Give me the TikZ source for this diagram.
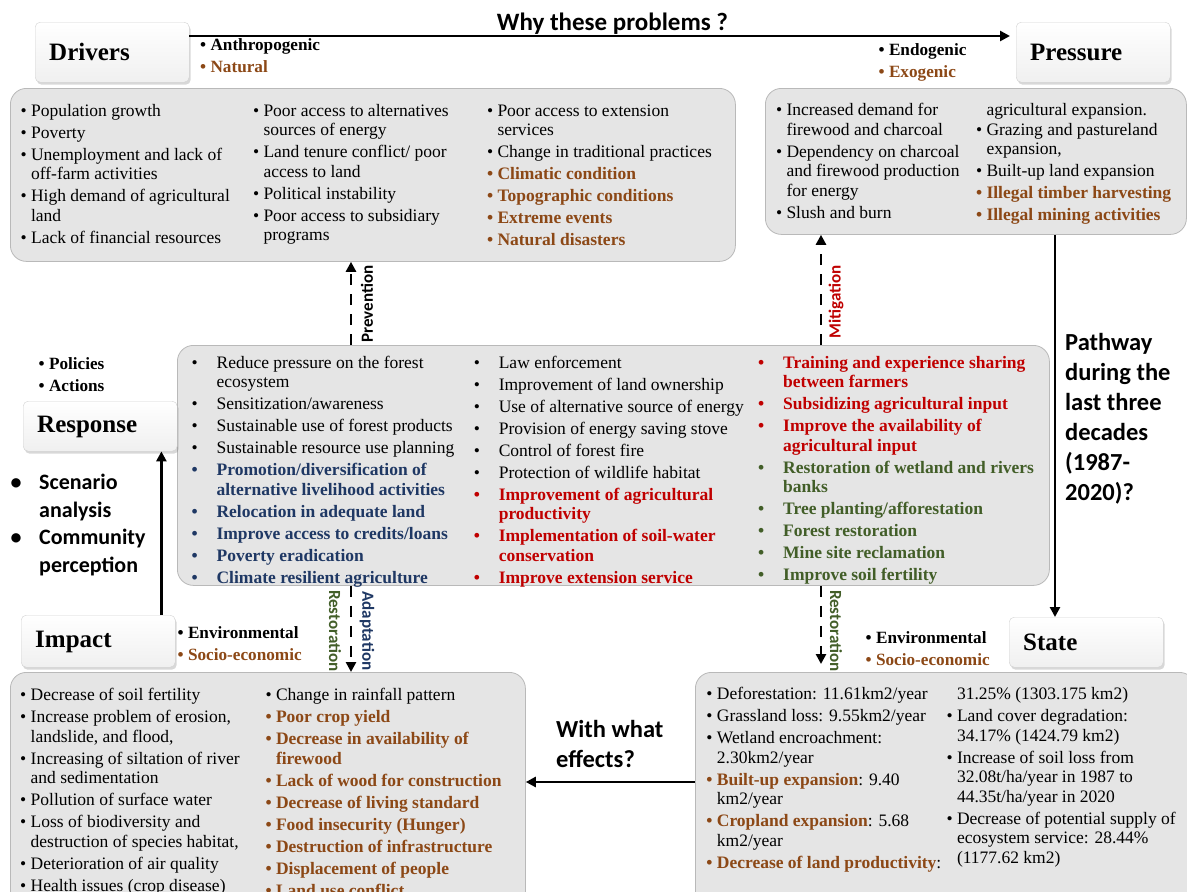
\documentclass[tikz,border=0pt]{standalone}
\usepackage{fontspec}
\setmainfont{Liberation Serif}
\newfontfamily\headsans{Carlito}
\usetikzlibrary{arrows.meta,shadows}

\definecolor{natbrown}{RGB}{140,72,22}
\definecolor{actred}{RGB}{192,0,0}
\definecolor{adpblue}{RGB}{31,56,100}
\definecolor{resgreen}{RGB}{66,94,40}

\newcommand{\tp}{\rule{0pt}{13pt}}
\newcommand{\tq}{\rule{0pt}{20pt}}
\newcommand{\bu}{\textbullet\ }
\newcommand{\bi}{\phantom{\textbullet\ }}
\newcommand{\cb}{\makebox[25pt][l]{\textbullet}}
\newcommand{\ci}{\hspace*{25pt}}
\newcommand{\qb}{\makebox[28.5pt][l]{\textbullet}}
\newcommand{\qi}{\hspace*{28.5pt}}
\newcommand{\nat}[1]{\textcolor{natbrown}{\bfseries #1}}
\newcommand{\act}[1]{\textcolor{actred}{\bfseries #1}}
\newcommand{\adp}[1]{\textcolor{adpblue}{\bfseries #1}}
\newcommand{\res}[1]{\textcolor{resgreen}{\bfseries #1}}
\newcommand{\nxt}{\\[2.5pt]}

\begin{document}
\begin{tikzpicture}[x=1pt, y=-1pt,
    hdr/.style={draw=gray!35, top color=white, bottom color=gray!12, rounded corners=5pt,
      drop shadow={opacity=.3, shadow xshift=1.5pt, shadow yshift=-2.5pt},
      anchor=north west, inner xsep=14pt, text width=126pt, align=left,
      font=\fontsize{25}{30}\selectfont\bfseries},
    panel/.style={draw=gray!55, fill=gray!20, line width=.8pt, rounded corners=16pt,
      anchor=north west, inner sep=0pt},
    items/.style={anchor=north west, align=left, inner sep=0pt, font=\fontsize{17.5}{19.5}\selectfont},
    tags/.style={anchor=north west, align=left, inner sep=0pt, font=\fontsize{17.2}{22}\selectfont\bfseries},
    question/.style={anchor=north west, align=left, inner sep=0pt, font=\headsans\fontsize{24.5}{30}\selectfont\bfseries},
    link/.style={line width=2.6pt, -{Triangle[length=10pt,width=10pt]}},
    dlink/.style={link, dash pattern=on 11pt off 9pt},
    dlabel/.style={inner sep=0pt, font=\headsans\fontsize{17}{17}\selectfont\bfseries}]

  \path[use as bounding box, fill=white] (0,0) rectangle (1187,892);
  \clip (0,0) rectangle (1187,892);

  % grey panels holding the lists
  \node[panel, minimum width=725pt, minimum height=173pt] (drvpanel) at (10,88) {};
  \node[panel, minimum width=421pt, minimum height=146pt] (prspanel) at (765,88) {};
  \node[panel, minimum width=872pt, minimum height=240pt] (ctrpanel) at (177,345) {};
  \node[panel, minimum width=515pt, minimum height=240pt] (imppanel) at (10,672) {};
  \node[panel, minimum width=500pt, minimum height=240pt] (stapanel) at (695,672) {};

  % DPSIR headers
  \node[hdr, minimum height=60pt] (drivers) at (35,22) {Drivers};
  \node[hdr, minimum height=60pt] (pressure) at (1016,22) {Pressure};
  \node[hdr, minimum height=50pt, text depth=3pt] (response) at (23,401) {Response};
  \node[hdr, minimum height=52pt, text depth=3pt] (impact) at (21,615) {Impact};
  \node[hdr, minimum height=50pt] (state) at (1009,617) {State};

  % solid links
  \draw[link, shorten >=6pt] ([yshift=-14pt]drivers.north east) -- ([yshift=-14pt]pressure.north west);
  \coordinate (pw) at ([xshift=46pt]state.north west);
  \draw[link] (pw |- prspanel.south) -- (pw);
  \coordinate (rs) at ([xshift=-14pt]impact.north east);
  \draw[link] (rs) -- (rs |- response.south);
  \coordinate (fx) at ([yshift=-110pt]stapanel.north west);
  \draw[link] (fx) -- (fx -| imppanel.east);

  % dashed links out of the responses
  \coordinate (pv) at ([xshift=174pt]ctrpanel.north west);
  \draw[dlink] (pv) -- (pv |- drvpanel.south);
  \node[dlabel, rotate=90] (prevlbl) at ([xshift=16pt, yshift=41pt]pv) {Prevention};
  \coordinate (mg) at ([xshift=644pt]ctrpanel.north west);
  \draw[dlink] (mg) -- (mg |- prspanel.south);
  \node[dlabel, rotate=90, text=actred] (mitlbl) at ([xshift=15pt, yshift=43pt]mg) {Mitigation};
  \coordinate (ad) at ([xshift=174pt]ctrpanel.south west);
  \draw[dlink] (ad) -- (ad |- imppanel.north);
  \node[dlabel, rotate=-90, text=resgreen] (reslbl) at ([xshift=-16pt, yshift=-45pt]ad) {Restoration};
  \node[dlabel, rotate=-90, text=adpblue] (adplbl) at ([xshift=16pt, yshift=-45pt]ad) {Adaptation};
  \coordinate (rt) at ([xshift=644pt]ctrpanel.south west);
  \draw[dlink, shorten >=8pt] (rt) -- (rt |- stapanel.north);
  \node[dlabel, rotate=-90, text=resgreen] (rtlbl) at ([xshift=15pt, yshift=-45pt]rt) {Restoration};

  % questions along the cycle
  \node[question, anchor=base, font=\headsans\fontsize{25}{30}\selectfont\bfseries] (why) at (612.5,30) {Why these problems ?};
  \node[question] (path) at (1065,330) {\tq Pathway\\ during the\\ last three\\ decades\\ (1987-\\ 2020)?};
  \node[question] (effects) at (556,717) {\tq With what\\ effects?};
  \node[question, font=\headsans\fontsize{22}{27.5}\selectfont\bfseries] (scen) at (10.5,469.5)
    {\tq\qb Scenario\\ \qi analysis\\ \qb Community\\ \qi perception};

  % small tags next to the headers
  \node[tags] (drvtag) at (200,37) {\tp\bu Anthropogenic\\ \nat{\bu Natural}};
  \node[tags] (prstag) at (878.5,42.5) {\tp\bu Endogenic\\ \nat{\bu Exogenic}};
  \node[tags] (rsptag) at (38.5,356.5) {\tp\bu Policies\\ \bu Actions};
  \node[tags] (imptag) at (177.5,625.5) {\tp\bu Environmental\\ \nat{\bu Socio-economic}};
  \node[tags] (statag) at (865.5,630.5) {\tp\bu Environmental\\ \nat{\bu Socio-economic}};

  % drivers
  \node[items] (drv1) at (20.4,103) {\tp\bu Population growth\nxt \bu Poverty\nxt
    \bu Unemployment and lack of\\ \bi off-farm activities\nxt
    \bu High demand of agricultural\\ \bi land\nxt \bu Lack of financial resources};
  \node[items] (drv2) at (252.8,103) {\tp\bu Poor access to alternatives\\ \bi sources of energy\nxt
    \bu Land tenure conflict/ poor\\ \bi access to land\nxt \bu Political instability\nxt
    \bu Poor access to subsidiary\\ \bi programs};
  \node[items] (drv3) at (486.8,103) {\tp\bu Poor access to extension\\ \bi services\nxt
    \bu Change in traditional practices\nxt \nat{\bu Climatic condition}\nxt
    \nat{\bu Topographic conditions}\nxt \nat{\bu Extreme events}\nxt \nat{\bu Natural disasters}};

  % pressures
  \node[items] (prs1) at (775.8,102.5) {\tp\bu Increased demand for\\ \bi firewood and charcoal\nxt
    \bu Dependency on charcoal\\ \bi and firewood production\\ \bi for energy\nxt \bu Slush and burn};
  \node[items] (prs2) at (975.8,102.5) {\tp\bi agricultural expansion.\\ \bu Grazing and pastureland\\ \bi expansion,\nxt
    \bu Built-up land expansion\nxt \nat{\bu Illegal timber harvesting}\nxt \nat{\bu Illegal mining activities}};

  % responses
  \node[items] (ctr1) at (191.4,355) {\tp\cb Reduce pressure on the forest\\ \ci ecosystem\nxt
    \cb Sensitization/awareness\nxt \cb Sustainable use of forest products\nxt
    \cb Sustainable resource use planning\nxt
    \adp{\cb Promotion/diversification of}\\ \adp{\ci alternative livelihood activities}\nxt
    \adp{\cb Relocation in adequate land}\nxt \adp{\cb Improve access to credits/loans}\nxt
    \adp{\cb Poverty eradication}\nxt \adp{\cb Climate resilient agriculture}};
  \node[items] (ctr2) at (473.6,355) {\tp\cb Law enforcement\nxt \cb Improvement of land ownership\nxt
    \cb Use of alternative source of energy\nxt \cb Provision of energy saving stove\nxt
    \cb Control of forest fire\nxt \cb Protection of wildlife habitat\nxt
    \act{\cb Improvement of agricultural}\\ \act{\ci productivity}\nxt
    \act{\cb Implementation of soil-water}\\ \act{\ci conservation}\nxt
    \act{\cb Improve extension service}};
  \node[items] (ctr3) at (758,355) {\tp\act{\cb Training and experience sharing}\\ \act{\ci between farmers}\nxt
    \act{\cb Subsidizing agricultural input}\nxt
    \act{\cb Improve the availability of}\\ \act{\ci agricultural input}\nxt
    \res{\cb Restoration of wetland and rivers}\\ \res{\ci banks}\nxt
    \res{\cb Tree planting/afforestation}\nxt \res{\cb Forest restoration}\nxt
    \res{\cb Mine site reclamation}\nxt \res{\cb Improve soil fertility}};

  % impacts
  \node[items] (imp1) at (20,687.5) {\tp\bu Decrease of soil fertility\nxt
    \bu Increase problem of erosion,\\ \bi landslide, and flood,\nxt
    \bu Increasing of siltation of river\\ \bi and sedimentation\nxt
    \bu Pollution of surface water\nxt
    \bu Loss of biodiversity and\\ \bi destruction of species habitat,\nxt
    \bu Deterioration of air quality\nxt \bu Health issues (crop disease)};
  \node[items] (imp2) at (265.3,687.5) {\tp\bu Change in rainfall pattern\nxt \nat{\bu Poor crop yield}\nxt
    \nat{\bu Decrease in availability of}\\ \nat{\bi firewood}\nxt
    \nat{\bu Lack of wood for construction}\nxt \nat{\bu Decrease of living standard}\nxt
    \nat{\bu Food insecurity (Hunger)}\nxt \nat{\bu Destruction of infrastructure}\nxt
    \nat{\bu Displacement of people}\nxt \nat{\bu Land use conflict}};

  % state
  \node[items] (sta1) at (706.2,686.5) {\tp\bu Deforestation: 11.61km2/year\nxt
    \bu Grassland loss: 9.55km2/year\nxt \bu Wetland encroachment:\\ \bi 2.30km2/year\nxt
    \nat{\bu Built-up expansion}: 9.40\\ \bi km2/year\nxt
    \nat{\bu Cropland expansion}: 5.68\\ \bi km2/year\nxt
    \nat{\bu Decrease of land productivity}:};
  \node[items] (sta2) at (946.3,686.5) {\tp\bi 31.25\% (1303.175 km2)\nxt
    \bu Land cover degradation:\\ \bi 34.17\% (1424.79 km2)\nxt
    \bu Increase of soil loss from\\ \bi 32.08t/ha/year in 1987 to\\ \bi 44.35t/ha/year in 2020\nxt
    \bu Decrease of potential supply of\\ \bi ecosystem service: 28.44\%\\ \bi (1177.62 km2)};
\end{tikzpicture}
\end{document}
